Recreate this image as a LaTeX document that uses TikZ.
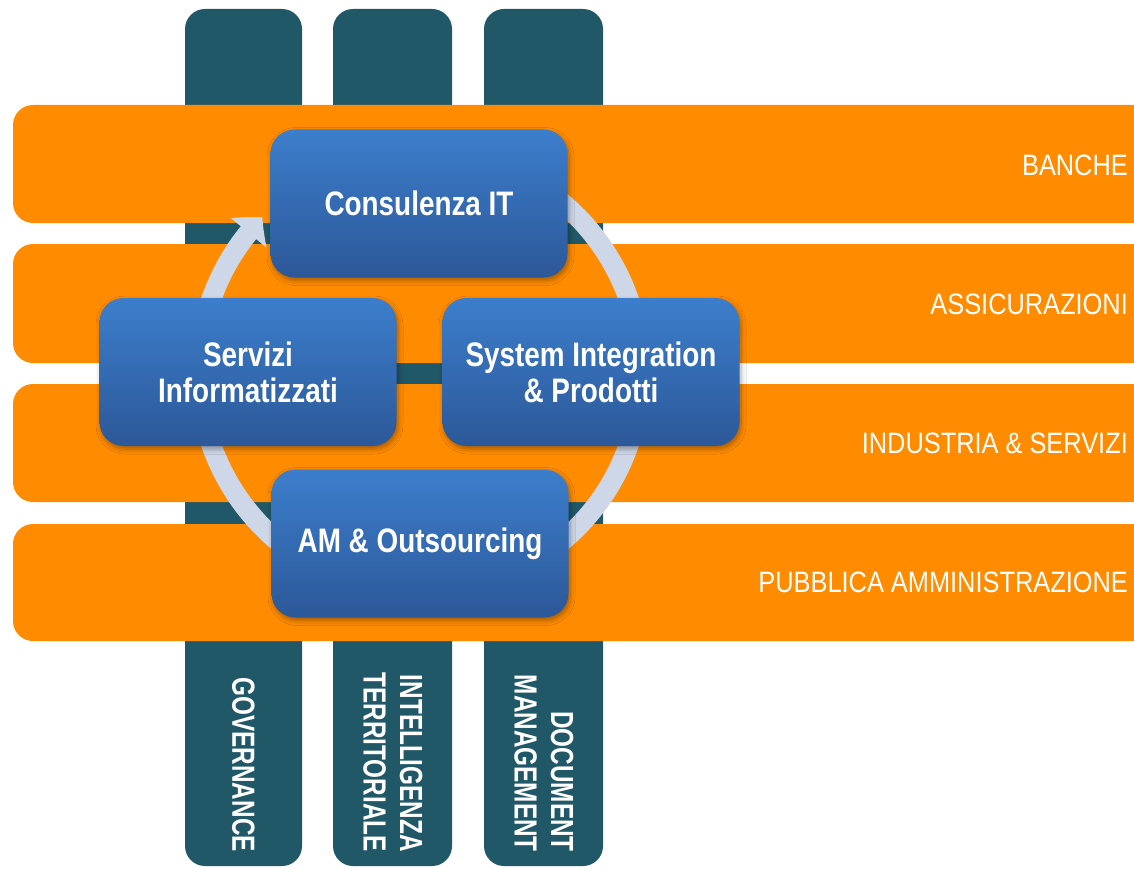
\documentclass[tikz,border=0pt]{standalone}
\usepackage{fontspec}
\setmainfont{Liberation Sans}
\newfontfamily\boxf{Liberation Sans}[FakeStretch=0.82]
\newfontfamily\labf{Liberation Sans}[FakeStretch=0.86]
\newfontfamily\vertf{Liberation Sans}[FakeStretch=0.76]
\usetikzlibrary{arrows.meta,bending,shadows.blur}
\definecolor{orangebar}{RGB}{255,140,0}
\definecolor{tealbar}{RGB}{33,88,104}
\definecolor{ringc}{RGB}{206,215,231}
\definecolor{boxtop}{RGB}{60,126,204}
\definecolor{boxbot}{RGB}{44,88,152}
\tikzset{
  vbar/.style={fill=tealbar, rounded corners=20pt},
  hbar/.style={fill=orangebar, rounded corners=20pt},
  blocbox/.style={rounded corners=24pt, minimum width=297pt, minimum height=148pt,
    inner sep=0pt, top color=boxtop, bottom color=boxbot, draw=none, text=white,
    align=center, font=\boxf\bfseries\fontsize{34}{36}\selectfont,
    blur shadow={shadow xshift=1.5pt, shadow yshift=-3pt, shadow opacity=35, shadow blur radius=5pt}},
  sectorlabel/.style={anchor=east, text=white, inner sep=0pt,
    font=\labf\fontsize{29.5}{32}\selectfont},
  vlabel/.style={anchor=east, rotate=-90, text=white, inner sep=0pt, align=right,
    font=\vertf\bfseries\fontsize{32}{36.5}\selectfont},
  ringline/.style={draw=ringc, line width=20pt, -{Triangle[length=21pt,width=45pt,bend]}},
}
\begin{document}
\begin{tikzpicture}[x=1pt,y=1pt]
\useasboundingbox (0,0) rectangle (1134,-869);
\clip (0,0) rectangle (1134,-869);
\fill[white] (0,0) rectangle (1134,-869);
% vertical teal bars
\fill[vbar] (185,-9) rectangle (302,-866);
\fill[vbar] (333,-9) rectangle (452,-866);
\fill[vbar] (484,-9) rectangle (603,-866);
% horizontal orange bars
\fill[hbar] (13,-105) rectangle (1152,-223);
\fill[hbar] (13,-244) rectangle (1152,-363);
\fill[hbar] (13,-384) rectangle (1152,-502);
\fill[hbar] (13,-524) rectangle (1152,-641);
% sector labels
\node[sectorlabel] (banche) at (1128,-165) {BANCHE};
\node[sectorlabel] (assic) at (1128,-304) {ASSICURAZIONI};
\node[sectorlabel] (indus) at (1128,-443) {INDUSTRIA \& SERVIZI};
\node[sectorlabel] (pa) at (1128,-582) {PUBBLICA AMMINISTRAZIONE};
% ring with arrow
\coordinate (c) at (420,-372);
\draw[ringline] (c) ++(480:221) arc[start angle=480, end angle=135.5, radius=221];
% boxes
\node[blocbox] (consulenza) at (419,-203.5) {Consulenza IT};
\node[blocbox] (servizi) at (248,-372) {Servizi\\Informatizzati};
\node[blocbox] (system) at (591,-372) {System Integration\\\& Prodotti};
\node[blocbox] (am) at (420,-543.5) {AM \& Outsourcing};
% vertical labels
\node[vlabel] (gov) at (243.5,-852) {GOVERNANCE};
\node[vlabel] (intel) at (393,-852) {INTELLIGENZA\\TERRITORIALE};
\node[vlabel] (doc) at (544,-852) {DOCUMENT\\MANAGEMENT};
\end{tikzpicture}
\end{document}
